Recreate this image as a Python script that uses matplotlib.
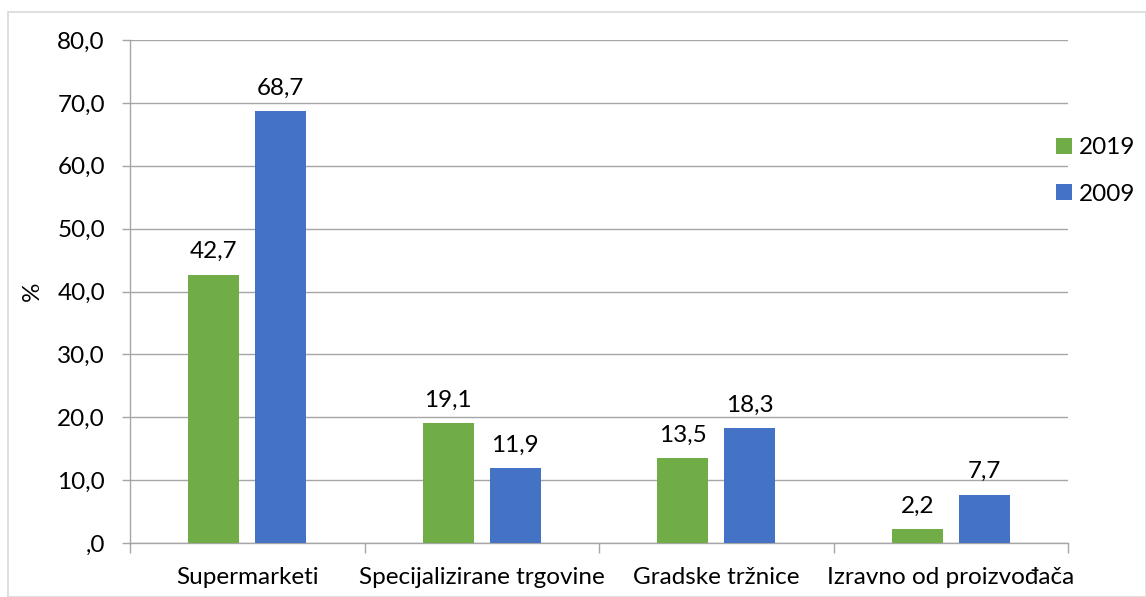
import matplotlib
matplotlib.use("Agg")
import matplotlib.pyplot as plt
from matplotlib.patches import Rectangle
import numpy as np

categories = ["Supermarketi", "Specijalizirane trgovine", "Gradske tržnice", "Izravno od proizvođača"]
series_names = ["2019", "2009"]
values_2019 = [42.7, 19.1, 13.5, 2.2]
values_2009 = [68.7, 11.9, 18.3, 7.7]
y_ticks = [0, 10, 20, 30, 40, 50, 60, 70, 80]
y_tick_labels = [",0", "10,0", "20,0", "30,0", "40,0", "50,0", "60,0", "70,0", "80,0"]

plt.rcParams['font.family'] = ['Lato', 'DejaVu Sans']
FS = 17.5

fig = plt.figure(figsize=(11.46, 5.97), dpi=100)
ax = fig.add_axes([130/1146, 1-543/597, (1068-130)/1146, (543-40)/597])

green = "#70AD47"
blue = "#4472C4"
x = np.arange(len(categories))
off = 0.143
w = 0.218
b1 = ax.bar(x - off, values_2019, w, color=green, label=series_names[0], zorder=3)
b2 = ax.bar(x + off, values_2009, w, color=blue, label=series_names[1], zorder=3)

def fmt(v):
    return f"{v:.1f}".replace(".", ",")

for bars, vals in ((b1, values_2019), (b2, values_2009)):
    for rect, v in zip(bars, vals):
        ax.annotate(fmt(v), (rect.get_x() + rect.get_width()/2, v), xytext=(0, 9),
                    textcoords="offset points", ha="center", va="bottom", fontsize=FS, color="black")

ax.set_xlim(-0.5, len(categories) - 0.5)
ax.set_ylim(0, 80)
ax.set_yticks(y_ticks)
ax.set_yticklabels(y_tick_labels, fontsize=FS)
ax.yaxis.grid(True, color="#A6A6A6", linewidth=1.0, zorder=0)
ax.set_axisbelow(True)

ax.set_xticks(x)
ax.set_xticklabels(categories, fontsize=FS)
ax.tick_params(axis="x", length=0, pad=17)
ax.set_xticks(np.arange(-0.5, len(categories), 1.0), minor=True)
ax.tick_params(axis="x", which="minor", length=7, color="#A6A6A6", width=1)
ax.tick_params(axis="y", length=6, color="#A6A6A6", width=1, pad=12)

for s in ["top", "right"]:
    ax.spines[s].set_visible(False)
for s in ["left", "bottom"]:
    ax.spines[s].set_color("#A6A6A6")
    ax.spines[s].set_linewidth(1.0)

ax.set_ylabel("%", fontsize=FS, labelpad=10)

leg = fig.legend(handles=[b1, b2], labels=series_names, loc="upper left",
                 bbox_to_anchor=(1044/1146, 1-125/597), frameon=False, fontsize=FS,
                 handlelength=0.65, handleheight=0.65, labelspacing=1.05, handletextpad=0.3,
                 borderpad=0)

fig.patches.append(Rectangle((8/1146, 0), 1 - 8/1146, 1 - 12/597, transform=fig.transFigure,
                             fill=False, edgecolor="#D9D9D9", linewidth=1.2))

fig.savefig("out.png", dpi=100)
